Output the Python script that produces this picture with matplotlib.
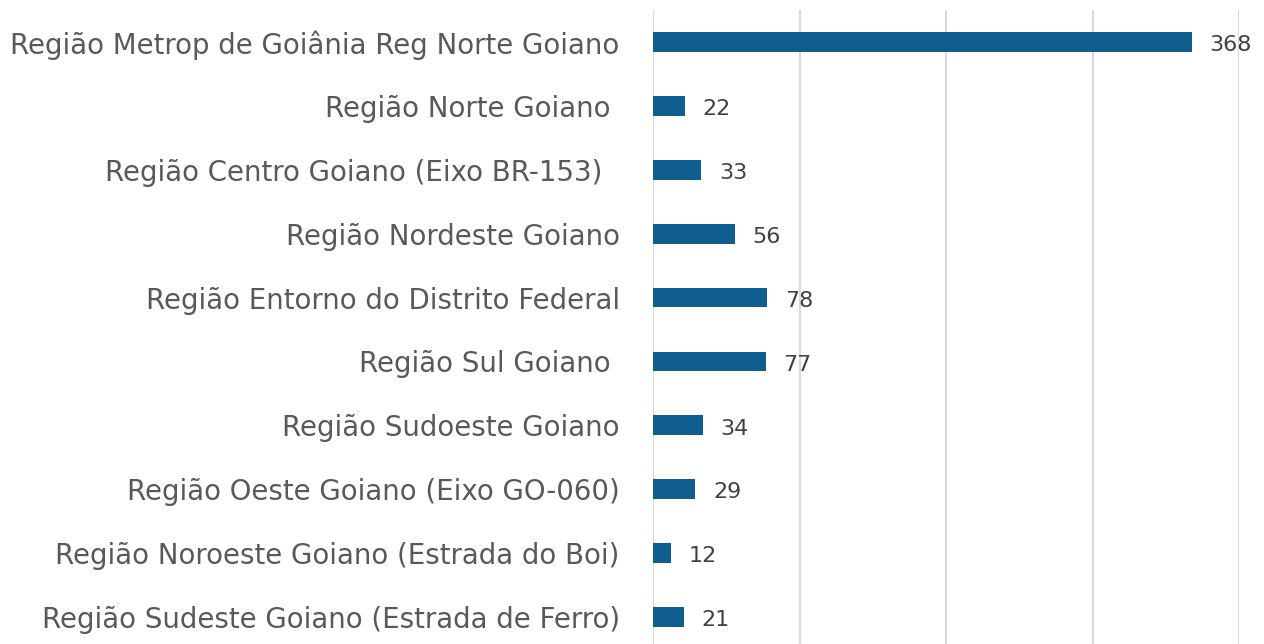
import matplotlib
matplotlib.use("Agg")
import matplotlib.pyplot as plt

categories = [
    "Região Metrop de Goiânia Reg Norte Goiano",
    "Região Norte Goiano ",
    "Região Centro Goiano (Eixo BR-153)  ",
    "Região Nordeste Goiano",
    "Região Entorno do Distrito Federal",
    "Região Sul Goiano ",
    "Região Sudoeste Goiano",
    "Região Oeste Goiano (Eixo GO-060)",
    "Região Noroeste Goiano (Estrada do Boi)",
    "Região Sudeste Goiano (Estrada de Ferro)",
]
values = [368, 22, 33, 56, 78, 77, 34, 29, 12, 21]
xticks = [0, 100, 200, 300, 400]

bar_color = "#105E8F"
text_color = "#595959"
grid_color = "#D9D9D9"

plt.rcParams['font.family'] = ['DejaVu Sans']

fig = plt.figure(figsize=(12.64, 6.44), dpi=100)
ax = fig.add_axes([653/1264, -5/644, (1239-653)/1264, (644-10+5)/644])

y = list(range(len(categories)))
ax.barh(y, values, height=0.31, color=bar_color, zorder=3)
for yi, v in zip(y, values):
    ax.text(v + 12, yi + 0.05, str(v), va='center', ha='left', fontsize=16,
            color="#404040", zorder=4)

ax.set_xlim(0, 400)
ax.set_ylim(len(categories) - 0.5, -0.5)
ax.set_xticks(xticks)
ax.set_xticklabels([])
ax.tick_params(axis='x', length=0)
ax.set_yticks(y)
ax.set_yticklabels(categories, fontsize=19.9, color=text_color)
ax.tick_params(axis='y', length=0, pad=24)
ax.grid(axis='x', color=grid_color, linewidth=1.5, zorder=0)
for s in ax.spines.values():
    s.set_visible(False)

fig.savefig("out.png", dpi=100)
